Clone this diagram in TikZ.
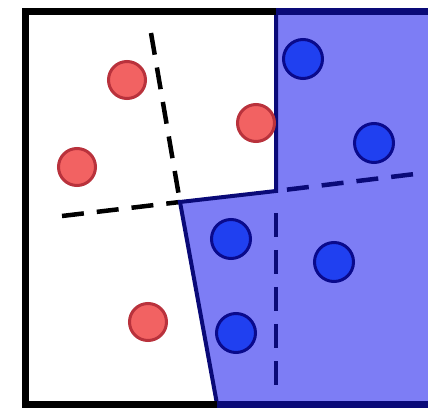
\documentclass[tikz,border=0pt]{standalone}
\definecolor{regionblue}{RGB}{125,125,245}
\definecolor{navyline}{RGB}{10,10,120}
\definecolor{redfill}{RGB}{242,98,98}
\definecolor{rededge}{RGB}{185,50,60}
\definecolor{bluefill}{RGB}{32,64,240}
\definecolor{blueedge}{RGB}{10,10,140}
\begin{document}
\begin{tikzpicture}[x=1pt,y=-1pt,
  redpt/.style={circle,draw=rededge,fill=redfill,line width=3pt,minimum size=37pt,inner sep=0pt},
  bluept/.style={circle,draw=blueedge,fill=bluefill,line width=3pt,minimum size=39pt,inner sep=0pt},
  cutline/.style={line width=4.5pt,dash pattern=on 22pt off 13pt},
  boundary/.style={draw=navyline,line width=4pt,line join=miter}]
\useasboundingbox (0,0) rectangle (428,411);
\fill[white] (0,0) rectangle (428,411);
% blue region
\coordinate (tc) at (276,12);
\coordinate (tr) at (428,12);
\coordinate (br) at (428,404);
\coordinate (bc) at (217,404);
\coordinate (mid) at (180,202);
\coordinate (rc) at (276,191);
\fill[regionblue] (tc) -- (tr) -- (br) -- (bc) -- (mid) -- (rc) -- cycle;
% dashed cuts
\coordinate (d1a) at (151,33);
\coordinate (h1a) at (62,216);
\coordinate (h1b) at (415,174);
\coordinate (v2a) at (276,200);
\coordinate (v2b) at (276,387);
\draw[cutline,black] (d1a) -- (mid);
\draw[cutline,black] (h1a) -- (mid);
\draw[cutline,navyline,dash phase=24pt] (rc) -- (h1b);
\draw[cutline,navyline,dash pattern=on 24pt off 13pt,dash phase=24pt] (v2a) -- (v2b);
% boundary of blue region
\draw[boundary] (tc) -- (rc) -- (mid) -- (bc);
% frame
\coordinate (fl) at (25,12);
\coordinate (fb) at (25,404);
\draw[black,line width=7pt] (tc) -- (fl) -- (fb) -- (bc);
\draw[navyline,line width=7pt] (tc) -- (tr);
\draw[navyline,line width=7pt] (bc) -- (br);
% points
\node[redpt] (r1) at (127,80) {};
\node[redpt] (r2) at (77,167) {};
\node[redpt] (r3) at (256,123) {};
\node[redpt] (r4) at (148,322) {};
\node[bluept] (b1) at (303,59) {};
\node[bluept] (b2) at (374,143) {};
\node[bluept] (b3) at (231,239) {};
\node[bluept] (b4) at (334,262) {};
\node[bluept] (b5) at (236,333) {};
\end{tikzpicture}
\end{document}
